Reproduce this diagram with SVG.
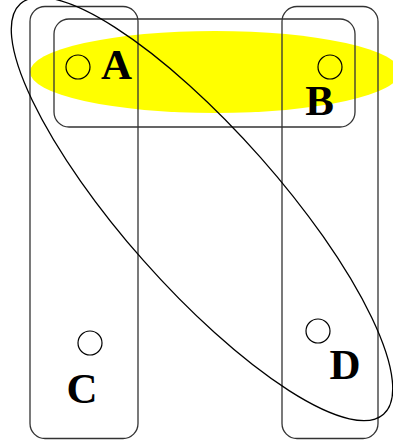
<svg xmlns="http://www.w3.org/2000/svg" width="393" height="443" viewBox="0 0 393 443">
<style>
.set{fill:none;stroke:#333;stroke-width:1.3}
.pt{fill:none;stroke:#000;stroke-width:1.2}
.lbl{font-family:"Liberation Serif",serif;font-weight:bold;font-size:43px;fill:#000;text-anchor:middle}
</style>
<rect width="393" height="443" fill="#fff"/>
<g id="yellow-set"><ellipse cx="215" cy="72" rx="185" ry="41" fill="#ffff00"/></g>
<g id="set-AB"><rect class="set" x="54" y="19" width="301" height="108" rx="15"/></g>
<g id="set-AC"><rect class="set" x="30" y="6.5" width="108" height="432" rx="15"/></g>
<g id="set-BD"><rect class="set" x="282" y="6.5" width="96" height="432" rx="15"/></g>
<g id="node-A"><circle class="pt" cx="78" cy="67" r="12"/><text class="lbl" x="116.5" y="79">A</text></g>
<g id="node-B"><circle class="pt" cx="330" cy="67" r="12"/><text class="lbl" x="319.5" y="115">B</text></g>
<g id="node-C"><circle class="pt" cx="90" cy="343" r="12"/><text class="lbl" x="82" y="403">C</text></g>
<g id="node-D"><circle class="pt" cx="318" cy="331" r="12"/><text class="lbl" x="345" y="379">D</text></g>
<g id="set-AD"><ellipse cx="202" cy="209" rx="274" ry="78" transform="rotate(48.5 202 209)" fill="none" stroke="#000" stroke-width="1.3"/></g>
</svg>
